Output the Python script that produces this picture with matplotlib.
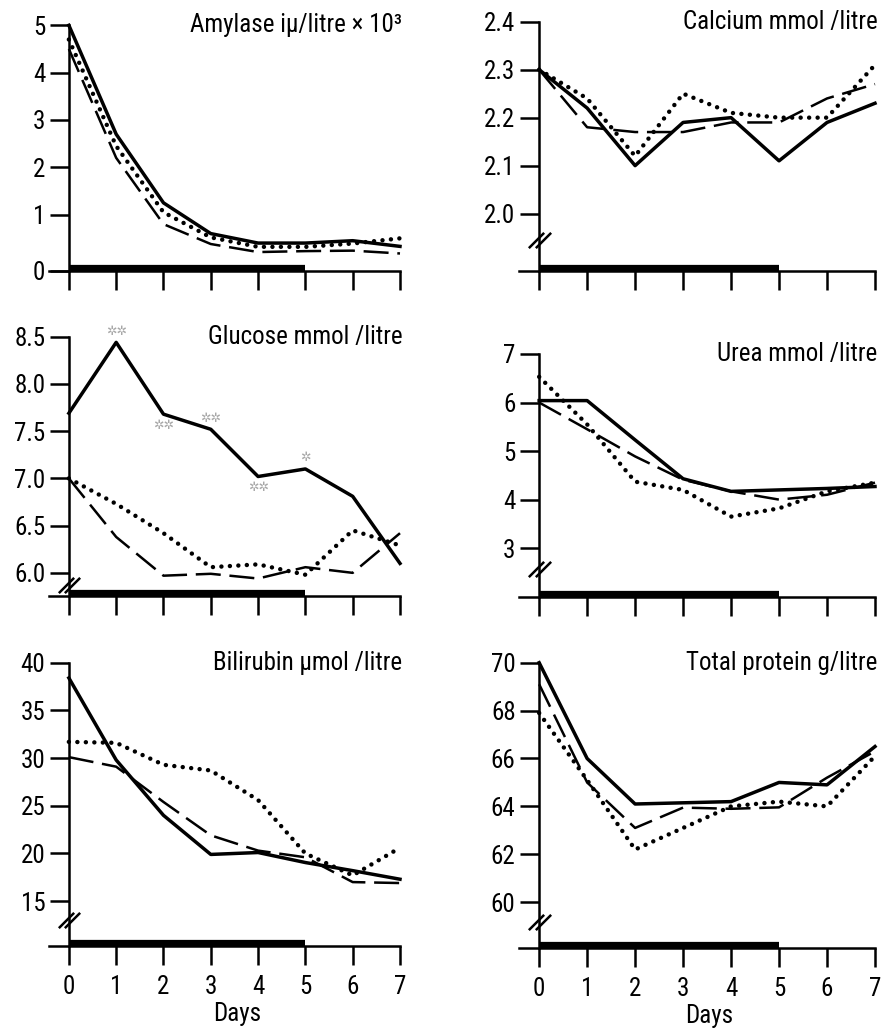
import matplotlib
matplotlib.use('Agg')
import matplotlib.pyplot as plt
from matplotlib.path import Path
from matplotlib.transforms import offset_copy

plt.rcParams['font.family'] = ['Roboto Condensed', 'Liberation Sans Narrow', 'DejaVu Sans']

W, H = 882, 1031

days = [0, 1, 2, 3, 4, 5, 6, 7]
treatment = [0, 5]  # thick bar along the day axis

amylase_solid = [5.0, 2.7, 1.25, 0.6, 0.4, 0.4, 0.45, 0.33]
amylase_dotted = [4.7, 2.45, 1.05, 0.52, 0.32, 0.32, 0.39, 0.5]
amylase_dashed = [4.5, 2.2, 0.8, 0.38, 0.21, 0.23, 0.24, 0.18]

calcium_solid = [2.3, 2.22, 2.10, 2.19, 2.20, 2.11, 2.19, 2.23]
calcium_dotted = [2.3, 2.24, 2.12, 2.25, 2.21, 2.20, 2.20, 2.31]
calcium_dashed = [2.3, 2.18, 2.17, 2.17, 2.19, 2.19, 2.24, 2.27]

glucose_solid = [7.69, 8.44, 7.68, 7.52, 7.02, 7.10, 6.81, 6.10]
glucose_dotted = [7.0, 6.73, 6.42, 6.06, 6.09, 5.98, 6.45, 6.29]
glucose_dashed = [7.0, 6.38, 5.97, 5.99, 5.94, 6.06, 6.0, 6.42]
glucose_marks = ['', '✲✲', '✲✲', '✲✲', '✲✲', '✲', '', '']
glucose_mark_side = [0, 1, -1, 1, -1, 1, 0, 0]

urea_solid = [6.04, 6.04, 5.23, 4.43, 4.17, 4.2, 4.23, 4.27]
urea_dotted = [6.53, 5.55, 4.37, 4.2, 3.65, 3.82, 4.17, 4.35]
urea_dashed = [6.0, 5.45, 4.89, 4.41, 4.17, 4.0, 4.1, 4.35]

bilirubin_solid = [38.4, 29.8, 24.0, 19.9, 20.1, 19.05, 18.2, 17.3]
bilirubin_dotted = [31.7, 31.6, 29.3, 28.7, 25.6, 20.0, 17.7, 20.6]
bilirubin_dashed = [30.1, 29.1, 25.4, 21.9, 20.3, 19.6, 17.0, 16.9]

protein_solid = [70.0, 66.0, 64.1, 64.15, 64.2, 65.0, 64.9, 66.5]
protein_dotted = [67.9, 65.1, 62.2, 63.1, 64.0, 64.2, 64.0, 66.1]
protein_dashed = [69.1, 65.0, 63.1, 63.95, 63.9, 63.96, 65.2, 66.3]

fig = plt.figure(figsize=(W / 100, H / 100), dpi=100)
slash = Path([(-1, -1), (1, 1)], [Path.MOVETO, Path.LINETO])


def panel(px, title, solid, dotted, dashed, yticks, ylabels, ylim, brk=None, xlabels=False):
    left, top, right, bottom = px
    ax = fig.add_axes([left / W, 1 - bottom / H, (right - left) / W, (bottom - top) / H])
    ax.set_xlim(-0.42, 7)
    ax.set_ylim(*ylim)

    ax.plot(days, dashed, color='black', lw=1.8, ls=(0, (10, 3.5)), clip_on=False)
    ax.plot(days, dotted, color='black', lw=3.2, ls=(0, (0.01, 1.9)),
            dash_capstyle='round', clip_on=False)
    ax.plot(days, solid, color='black', lw=2.5, clip_on=False)

    # treatment period bar sitting on the day axis
    ax.plot(treatment, [ylim[0]] * 2, color='black', lw=4.5, solid_capstyle='butt',
            transform=offset_copy(ax.transData, fig=fig, y=2.0, units='points'), clip_on=False)

    for side in ['top', 'right']:
        ax.spines[side].set_visible(False)
    ax.spines['left'].set_position(('data', 0))
    for side in ['left', 'bottom']:
        ax.spines[side].set_linewidth(1.8)

    ax.set_xticks(days)
    ax.set_yticks(yticks, ylabels)
    ax.tick_params(direction='out', length=14, width=1.8, labelsize=18)
    ax.tick_params(axis='y', pad=3)
    ax.tick_params(axis='x', pad=7, labelbottom=xlabels)
    if xlabels:
        ax.set_xlabel('Days', fontsize=18, labelpad=2)
        ax.xaxis.label.set_x((3.55 + 0.42) / 7.42)

    if brk is not None:
        for dx in (-0.07, 0.07):
            ax.plot(dx, brk, marker=slash, ms=11, mew=1.8, mec='black', clip_on=False)

    ax.text(7.05, ylim[1], title, ha='right', va='center', fontsize=18)
    return ax


L = (49, 400)
R = (519, 875)

panel((L[0], 25.3, L[1], 271), 'Amylase iµ/litre × 10³',
      amylase_solid, amylase_dotted, amylase_dashed,
      [-0.19, 1, 2, 3, 4, 5], ['0', '1', '2', '3', '4', '5'], (-0.19, 5))

panel((R[0], 21.7, R[1], 270.7), 'Calcium mmol /litre',
      calcium_solid, calcium_dotted, calcium_dashed,
      [2.0, 2.1, 2.2, 2.3, 2.4], ['2.0', '2.1', '2.2', '2.3', '2.4'], (1.881, 2.4), brk=1.944)

ax = panel((L[0], 336.7, L[1], 596), 'Glucose mmol /litre',
           glucose_solid, glucose_dotted, glucose_dashed,
           [6.0, 6.5, 7.0, 7.5, 8.0, 8.5], ['6.0', '6.5', '7.0', '7.5', '8.0', '8.5'],
           (5.755, 8.5), brk=5.87)
for d, v, m, s in zip(days, glucose_solid, glucose_marks, glucose_mark_side):
    if m:
        ax.annotate(m, (d, v), xytext=(0, 8 * s), textcoords='offset points',
                    ha='center', va='center', fontsize=9, color='#a8a8a8',
                    family=['DejaVu Sans'])

panel((R[0], 354, R[1], 596.7), 'Urea mmol /litre',
      urea_solid, urea_dotted, urea_dashed,
      [3, 4, 5, 6, 7], ['3', '4', '5', '6', '7'], (2.0, 7), brk=2.57)

panel((L[0], 662.7, L[1], 946), 'Bilirubin µmol /litre',
      bilirubin_solid, bilirubin_dotted, bilirubin_dashed,
      [15, 20, 25, 30, 35, 40], ['15', '20', '25', '30', '35', '40'], (10.3, 40),
      brk=13.0, xlabels=True)

panel((R[0], 662.7, R[1], 947.7), 'Total protein g/litre',
      protein_solid, protein_dotted, protein_dashed,
      [60, 62, 64, 66, 68, 70], ['60', '62', '64', '66', '68', '70'], (58.1, 70),
      brk=59.18, xlabels=True)

fig.savefig('out.png', dpi=100)
